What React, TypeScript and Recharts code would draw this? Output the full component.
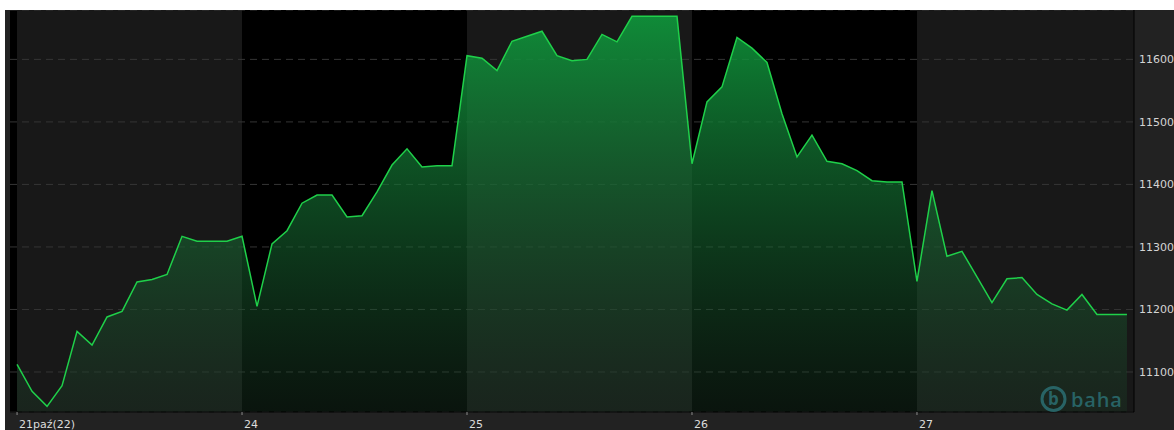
import React from "react";
import { Area, AreaChart, CartesianGrid, XAxis, YAxis } from "recharts";

// half-hour quotes, 15 steps per session
const prices = [
  11112, 11069, 11045, 11078, 11165, 11143, 11188, 11197, 11244, 11248, 11256, 11317, 11309, 11309, 11309,
  11317, 11205, 11305, 11326, 11370, 11383, 11383, 11348, 11350, 11388, 11431, 11457, 11428, 11430, 11430,
  11606, 11602, 11582, 11629, 11637, 11645, 11606, 11598, 11600, 11640, 11628, 11669, 11669, 11669, 11669,
  11433, 11532, 11556, 11635, 11618, 11595, 11513, 11444, 11479, 11437, 11433, 11422, 11406, 11404, 11404,
  11245, 11390, 11285, 11293, 11252, 11211, 11249, 11251, 11224, 11209, 11199, 11224, 11192, 11192, 11192,
];
const dayStarts = [0, 15, 30, 45, 60];
const dayLabels = ["21paź(22)", "24", "25", "26", "27"];
const yTicks = [11100, 11200, 11300, 11400, 11500, 11600];

const xMin = -0.47;
const xMax = prices.length - 1 + 0.47;
const yDomain = [11036, 11679];

const data = prices.map((v, i) => ({ i, v }));

const font = "'DejaVu Sans', Verdana, sans-serif";

// day bands: stripes start at the plot's left edge, then one per session
const bandGenerator = ({ xAxis, offset }: any) => {
  const scale = xAxis && xAxis.scale;
  const toPx = (v: number) =>
    typeof scale === "function"
      ? scale(v)
      : offset.left + ((v - xMin) / (xMax - xMin)) * offset.width;
  return [offset.left, ...dayStarts.map(toPx)];
};

function DayTick(props: any) {
  const { x, y, payload } = props;
  const idx = dayStarts.indexOf(payload.value);
  return (
    <g>
      <line x1={x} y1={y} x2={x} y2={y + 3} stroke="#8a8a8a" strokeWidth={1} />
      <text x={x + 2} y={y + 16} fill="#dcdcdc" fontSize={11} fontFamily={font} textAnchor="start">
        {idx >= 0 ? dayLabels[idx] : ""}
      </text>
    </g>
  );
}

export default function App() {
  return (
    <div style={{ position: "absolute", left: 0, top: 0, width: 1174, height: 430, background: "#fff" }}>
      <div style={{ position: "absolute", left: 5, top: 10, width: 1169, height: 420, background: "#222" }}>
        <AreaChart
          width={1169}
          height={420}
          data={data}
          margin={{ top: 0, right: 0, bottom: 0, left: 5 }}
        >
          <defs>
            <linearGradient id="fillGreen" gradientUnits="userSpaceOnUse" x1="0" y1="0" x2="0" y2="402">
              <stop offset="0%" stopColor="#0e9a3c" stopOpacity={0.9} />
              <stop offset="100%" stopColor="#1c3a26" stopOpacity={0.35} />
            </linearGradient>
          </defs>
          <CartesianGrid
            horizontal={false}
            vertical
            stroke="transparent"
            strokeOpacity={0}
            verticalFill={["#000000", "#181818"]}
            fillOpacity={1}
            verticalCoordinatesGenerator={bandGenerator}
          />
          <CartesianGrid vertical={false} stroke="#353535" strokeDasharray="7 5" />
          <XAxis
            dataKey="i"
            type="number"
            domain={[xMin, xMax]}
            allowDataOverflow
            ticks={dayStarts}
            height={18}
            tickSize={0}
            tickMargin={0}
            tickLine={false}
            axisLine={{ stroke: "#000" }}
            tick={<DayTick />}
            interval={0}
          />
          <YAxis
            orientation="right"
            type="number"
            domain={yDomain}
            allowDataOverflow
            ticks={yTicks}
            width={40}
            tickSize={5}
            tickMargin={0}
            tickLine={false}
            axisLine={{ stroke: "#000" }}
            tick={{ fill: "#d4d4d4", fontSize: 11, fontFamily: font, textAnchor: "start" }}
          />
          <Area
            type="linear"
            dataKey="v"
            stroke="#1fd04a"
            strokeWidth={1.5}
            fill="url(#fillGreen)"
            fillOpacity={1}
            dot={false}
            activeDot={false}
            isAnimationActive={false}
          />
        </AreaChart>
      </div>
      <svg
        width={1174}
        height={430}
        style={{ position: "absolute", left: 0, top: 0, pointerEvents: "none" }}
      >
        <g opacity={0.85}>
          <circle cx={1053.5} cy={399} r={11.5} fill="none" stroke="#2b6e72" strokeWidth={3} />
          <text
            x={1053.5}
            y={405}
            fill="#2b6e72"
            fontSize={17}
            fontWeight={700}
            fontFamily="'Open Sans', sans-serif"
            textAnchor="middle"
          >
            b
          </text>
          <text
            x={1071}
            y={406.5}
            fill="#2b6e72"
            fontSize={20}
            fontWeight={600}
            letterSpacing={0.8}
            fontFamily="'Open Sans', sans-serif"
          >
            baha
          </text>
        </g>
      </svg>
    </div>
  );
}
